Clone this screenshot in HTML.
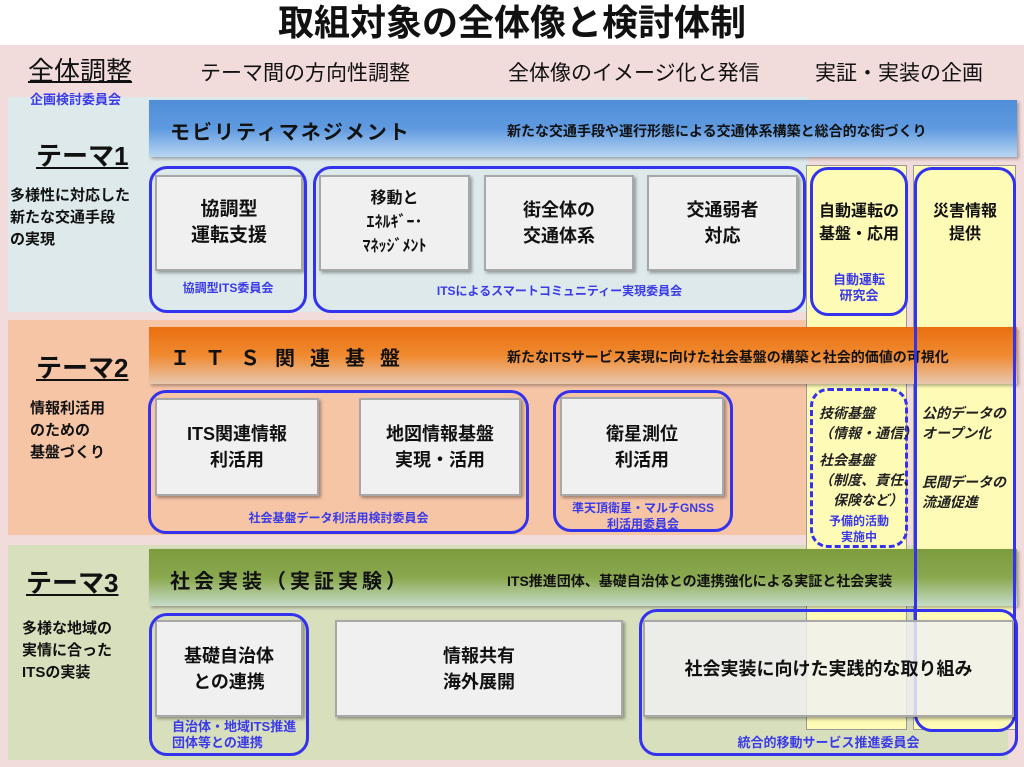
<!DOCTYPE html>
<html><head><meta charset="utf-8"><style>
*{margin:0;padding:0;box-sizing:border-box}
body{width:1024px;height:767px;position:relative;overflow:hidden;background:#fff;font-family:"Liberation Sans","Noto Sans CJK JP",sans-serif;color:#111}
.a{position:absolute}
.t{position:absolute;white-space:nowrap}
.box{position:absolute;background:#f0f0f0;border:2px solid #a8a8a8;box-shadow:2px 2px 3px rgba(0,0,0,.35);display:flex;align-items:center;justify-content:center;text-align:center;font-weight:bold;font-size:18px;line-height:26px}
.fr{position:absolute;border:3px solid #3333ee;border-radius:18px}
.bl{position:absolute;color:#3a3ae8;font-size:12px;font-weight:bold;text-align:center;line-height:16px;white-space:nowrap}
.bar{position:absolute;left:149px;width:868px;height:57px;box-shadow:2px 2px 3px rgba(0,0,0,.3)}
.bt{position:absolute;font-weight:bold;white-space:nowrap}
.th{position:absolute;font-weight:bold;font-size:26px;line-height:32px;text-decoration:underline;left:36px}
.td{position:absolute;font-weight:bold;font-size:15px;line-height:22px;left:10px}
.it{font-style:italic;font-size:14px;line-height:20px;position:absolute;white-space:nowrap;font-weight:bold;color:#222}
</style></head><body>
<div class="t" style="left:0;width:1024px;text-align:center;top:0px;font-size:36px;line-height:46px;font-weight:bold">取組対象の全体像と検討体制</div>
<div class="a" style="left:0;top:45px;width:1024px;height:722px;background:#f1dcdb"></div>
<div class="t" style="left:28px;top:55px;font-size:26px;line-height:32px;text-decoration:underline;text-underline-offset:1px">全体調整</div>
<div class="t" style="left:200px;top:60px;font-size:21px;line-height:28px">テーマ間の方向性調整</div>
<div class="t" style="left:508px;top:60px;font-size:21px;line-height:28px">全体像のイメージ化と発信</div>
<div class="t" style="left:815px;top:60px;font-size:21px;line-height:28px">実証・実装の企画</div>

<div class="a" style="left:8px;top:97px;width:800px;height:215px;background:#dde9ea"></div>
<div class="a" style="left:8px;top:320px;width:800px;height:215px;background:#f6c5a6"></div>
<div class="a" style="left:8px;top:545px;width:1000px;height:215px;background:#d8dfbd"></div>
<div class="bl" style="left:30px;top:92px;font-size:13px">企画検討委員会</div>

<div class="a" style="left:806px;top:165px;width:101px;height:565px;background:#fefbb6;border:1px solid #999"></div>
<div class="a" style="left:913px;top:165px;width:103px;height:565px;background:#fefbb6;border:1px solid #999"></div>

<div class="bar" style="top:100px;background:linear-gradient(#4f8ed8,#5f9ae0 50%,#b9d6f2)"></div>
<div class="bt" style="left:170px;top:116px;font-size:20px;letter-spacing:2px">モビリティマネジメント</div>
<div class="bt" style="left:507px;top:121px;font-size:14px">新たな交通手段や運行形態による交通体系構築と総合的な街づくり</div>
<div class="bar" style="top:327px;background:linear-gradient(#ea6f10,#f08a30 50%,#e8c8b0)"></div>
<div class="bt" style="left:170px;top:342px;font-size:20px;letter-spacing:15px">ＩＴＳ関連基盤</div>
<div class="bt" style="left:507px;top:347px;font-size:14px">新たなITSサービス実現に向けた社会基盤の構築と社会的価値の可視化</div>
<div class="bar" style="top:549px;background:linear-gradient(#7c9c3e,#8aa84e 50%,#c6dcc8)"></div>
<div class="bt" style="left:170px;top:565px;font-size:20px;letter-spacing:4px">社会実装（実証実験）</div>
<div class="bt" style="left:507px;top:571px;font-size:14px">ITS推進団体、基礎自治体との連携強化による実証と社会実装</div>

<div class="th" style="top:140px">テーマ1</div>
<div class="td" style="top:185px">多様性に対応した<br>新たな交通手段<br>の実現</div>
<div class="th" style="top:352px">テーマ2</div>
<div class="td" style="top:398px;left:30px">情報利活用<br>のための<br>基盤づくり</div>
<div class="th" style="top:567px;left:26px">テーマ3</div>
<div class="td" style="top:618px;left:22px">多様な地域の<br>実情に合った<br>ITSの実装</div>

<div class="box" style="left:155px;top:175px;width:148px;height:96px;font-size:19px">協調型<br>運転支援</div>
<div class="box" style="left:319px;top:175px;width:151px;height:96px;font-size:16px;line-height:24px">移動と<br>ｴﾈﾙｷﾞｰ･<br>ﾏﾈｯｼﾞﾒﾝﾄ</div>
<div class="box" style="left:484px;top:175px;width:150px;height:96px">街全体の<br>交通体系</div>
<div class="box" style="left:647px;top:175px;width:151px;height:96px">交通弱者<br>対応</div>
<div class="fr" style="left:149px;top:166px;width:158px;height:147px"></div>
<div class="fr" style="left:313px;top:166px;width:493px;height:147px"></div>
<div class="bl" style="left:149px;top:280px;width:158px">協調型ITS委員会</div>
<div class="bl" style="left:313px;top:283px;width:493px">ITSによるスマートコミュニティー実現委員会</div>
<div class="fr" style="left:810px;top:167px;width:98px;height:149px"></div>
<div class="t" style="left:810px;width:98px;text-align:center;top:200px;font-size:16px;font-weight:bold;line-height:23px">自動運転の<br>基盤・応用</div>
<div class="bl" style="left:810px;top:272px;width:98px;font-size:13px">自動運転<br>研究会</div>
<div class="fr" style="left:914px;top:167px;width:102px;height:565px"></div>
<div class="t" style="left:914px;width:102px;text-align:center;top:200px;font-size:16px;font-weight:bold;line-height:23px">災害情報<br>提供</div>

<div class="box" style="left:155px;top:398px;width:164px;height:98px">ITS関連情報<br>利活用</div>
<div class="box" style="left:359px;top:398px;width:162px;height:98px">地図情報基盤<br>実現・活用</div>
<div class="box" style="left:560px;top:397px;width:164px;height:99px">衛星測位<br>利活用</div>
<div class="fr" style="left:148px;top:390px;width:381px;height:144px"></div>
<div class="fr" style="left:553px;top:390px;width:180px;height:142px"></div>
<div class="bl" style="left:148px;top:510px;width:381px">社会基盤データ利活用検討委員会</div>
<div class="bl" style="left:553px;top:500px;width:180px">準天頂衛星・マルチGNSS<br>利活用委員会</div>
<div class="fr" style="left:810px;top:388px;width:98px;height:160px;border-style:dashed"></div>
<div class="it" style="left:819px;top:403px">技術基盤<br>（情報・通信）</div>
<div class="it" style="left:819px;top:450px">社会基盤<br>（制度、責任、<br>　保険など）</div>
<div class="bl" style="left:810px;top:513px;width:98px">予備的活動<br>実施中</div>
<div class="it" style="left:922px;top:403px">公的データの<br>オープン化</div>
<div class="it" style="left:922px;top:472px">民間データの<br>流通促進</div>

<div class="box" style="left:155px;top:620px;width:148px;height:97px">基礎自治体<br>との連携</div>
<div class="box" style="left:335px;top:620px;width:288px;height:97px">情報共有<br>海外展開</div>
<div class="box" style="left:643px;top:620px;width:371px;height:97px;background:rgba(240,240,240,.85)">社会実装に向けた実践的な取り組み</div>
<div class="fr" style="left:149px;top:613px;width:160px;height:143px"></div>
<div class="fr" style="left:639px;top:609px;width:379px;height:147px"></div>
<div class="bl" style="left:172px;top:719px;font-size:13px;text-align:left">自治体・地域ITS推進<br>団体等との連携</div>
<div class="bl" style="left:639px;top:735px;width:379px;font-size:13px">統合的移動サービス推進委員会</div>
</body></html>
